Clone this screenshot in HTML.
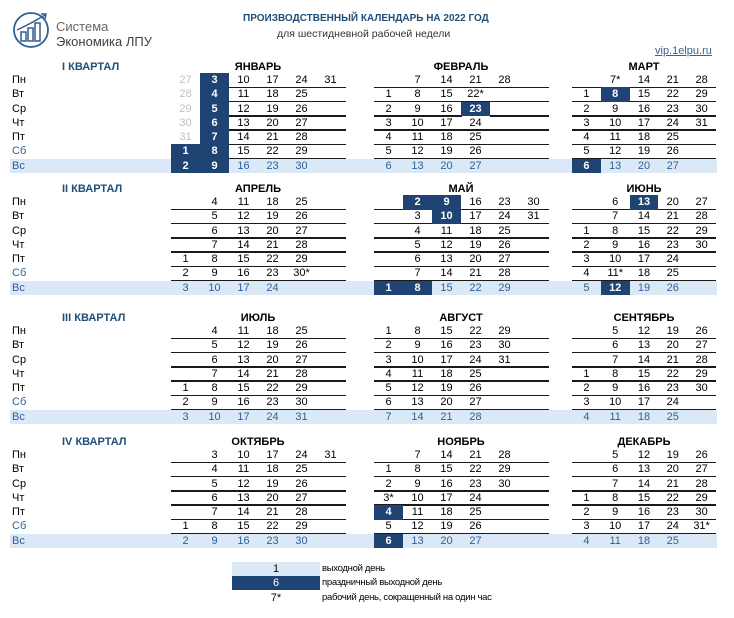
<!DOCTYPE html>
<html><head><meta charset="utf-8">
<style>
body{margin:0;width:734px;height:618px;background:#fff;position:relative;overflow:hidden;font-family:"Liberation Sans","Noto Sans CJK SC",sans-serif;}
.a{position:absolute;white-space:nowrap;}
.c{position:absolute;text-align:center;font-size:11px;line-height:14px;height:14px;}
.lg{font-size:9.5px;line-height:14px;letter-spacing:-0.3px;}
</style></head><body>
<svg class="a" style="left:12px;top:10px" width="40" height="40">
<circle cx="19" cy="20" r="17" fill="none" stroke="#2f5f8f" stroke-width="1.8"/>
<rect x="9" y="22" width="5" height="9" fill="none" stroke="#2f5f8f" stroke-width="1.5"/>
<rect x="16" y="18" width="5" height="13" fill="none" stroke="#2f5f8f" stroke-width="1.5"/>
<rect x="23" y="13" width="5" height="18" fill="none" stroke="#2f5f8f" stroke-width="1.5"/>
<path d="M5 20 Q18 14 33 5" fill="none" stroke="#2f5f8f" stroke-width="1.5"/>
<path d="M29 4 L34 4 L33 9" fill="none" stroke="#2f5f8f" stroke-width="1.5"/>
</svg>
<div class="a" style="left:56px;top:19px;font-size:13px;color:#666">Система</div>
<div class="a" style="left:56px;top:34px;font-size:13px;color:#404040">Экономика ЛПУ</div>
<div class="a" style="left:243px;top:13px;font-size:10px;font-weight:bold;color:#1f4e79">ПРОИЗВОДСТВЕННЫЙ КАЛЕНДАРЬ НА 2022 ГОД</div>
<div class="a" style="left:277px;top:28px;font-size:10.5px;color:#333">для шестидневной рабочей недели</div>
<div class="a" style="left:655px;top:45px;font-size:11px;color:#3a5f8a;text-decoration:underline">vip.1elpu.ru</div>
<div id="cal"></div>
<script>
const quarterNames=["I КВАРТАЛ","II КВАРТАЛ","III КВАРТАЛ","IV КВАРТАЛ"];
const monthNames=["ЯНВАРЬ","ФЕВРАЛЬ","МАРТ","АПРЕЛЬ","МАЙ","ИЮНЬ","ИЮЛЬ","АВГУСТ","СЕНТЯБРЬ","ОКТЯБРЬ","НОЯБРЬ","ДЕКАБРЬ"];
const dayNames=["Пн","Вт","Ср","Чт","Пт","Сб","Вс"];
const holidays={0:[1,2,3,4,5,6,7,8,9],1:[23],2:[6,8],4:[1,2,8,9,10],5:[12,13],10:[4,6]};
const shortDays={1:[22],2:[7],3:[30],5:[11],10:[3],11:[31]};
const prevGrey=[27,28,29,30,31];
const quarterBase=[80,202,331,455];
const blocks=[{x:171,w:29,n:6},{x:374,w:29,n:6},{x:572,w:28.8,n:5}];
const RH=14.25;
const cal=document.getElementById('cal');
function add(cls,style,txt){const d=document.createElement('div');d.className=cls;d.style.cssText=style;if(txt!==undefined)d.textContent=txt;cal.appendChild(d);return d;}
for(let q=0;q<4;q++){
  const base=quarterBase[q];
  const band=add('a',`left:10px;top:${base+6*RH-7}px;width:707px;height:14px;background:#dbe8f6`);
  
  
  const qt=add('a',`left:62px;top:${base-20}px;font-size:11px;font-weight:bold;color:#1f4e79;line-height:14px`,quarterNames[q]);
  
  
  for(let r=0;r<7;r++){
    const col=r>=5?'#2e5f9a':'#000';
    const l=add('a',`left:12px;top:${base+r*RH-7}px;font-size:11px;line-height:14px;color:${col}`,dayNames[r]);
    
    
  }
  for(let b=0;b<3;b++){
    const m=q*3+b, B=blocks[b];
    const mt=add('c',`left:${B.x}px;top:${base-20}px;width:${B.w*B.n}px;font-weight:bold;font-size:11px`,monthNames[m]);
    
    
    const off=(new Date(2022,m,1).getDay()+6)%7;
    const nd=new Date(2022,m+1,0).getDate();
    const grid={};
    for(let d=1;d<=nd;d++){const p=off+d-1;grid[Math.floor(p/7)+','+(p%7)]={d:d,h:(holidays[m]||[]).includes(d),s:(shortDays[m]||[]).includes(d)};}
    if(m==0)for(let r=0;r<off;r++)grid['0,'+r]={d:prevGrey[r],g:true};
    for(let c=0;c<B.n;c++)for(let r=0;r<7;r++){
      const cell=grid[c+','+r];
      const x=B.x+c*B.w, y=base+r*RH-7;
      if(r<6&&!(cell&&(cell.h||cell.g))){
        const ln=add('a',`left:${x}px;top:${y+13.5}px;width:${B.w+0.5}px;height:1.5px;background:#1a1a1a`);
        
        
      }
      if(!cell)continue;
      let st=`left:${x}px;top:${y}px;width:${B.w}px;`;
      if(cell.h)st+='background:#1f4372;color:#fff;font-weight:bold;height:14.5px;';
      else if(cell.g)st+='color:#c0c0c0;';
      else if(r==6)st+='color:#2e5f9a;';
      const e=add('c',st,cell.d+(cell.s?'*':''));
      
      
    }
  }
}
</script>
<div class="c" style="left:232px;top:562px;width:88px;background:#dbe8f6">1</div>
<div class="c" style="left:232px;top:576px;width:88px;background:#1f4372;color:#fff">6</div>
<div class="c" style="left:232px;top:591px;width:88px">7*</div>
<div class="a lg" style="left:322px;top:562px">выходной день</div>
<div class="a lg" style="left:322px;top:576px">праздничный выходной день</div>
<div class="a lg" style="left:322px;top:591px">рабочий день, сокращенный на один час</div>
</body></html>
